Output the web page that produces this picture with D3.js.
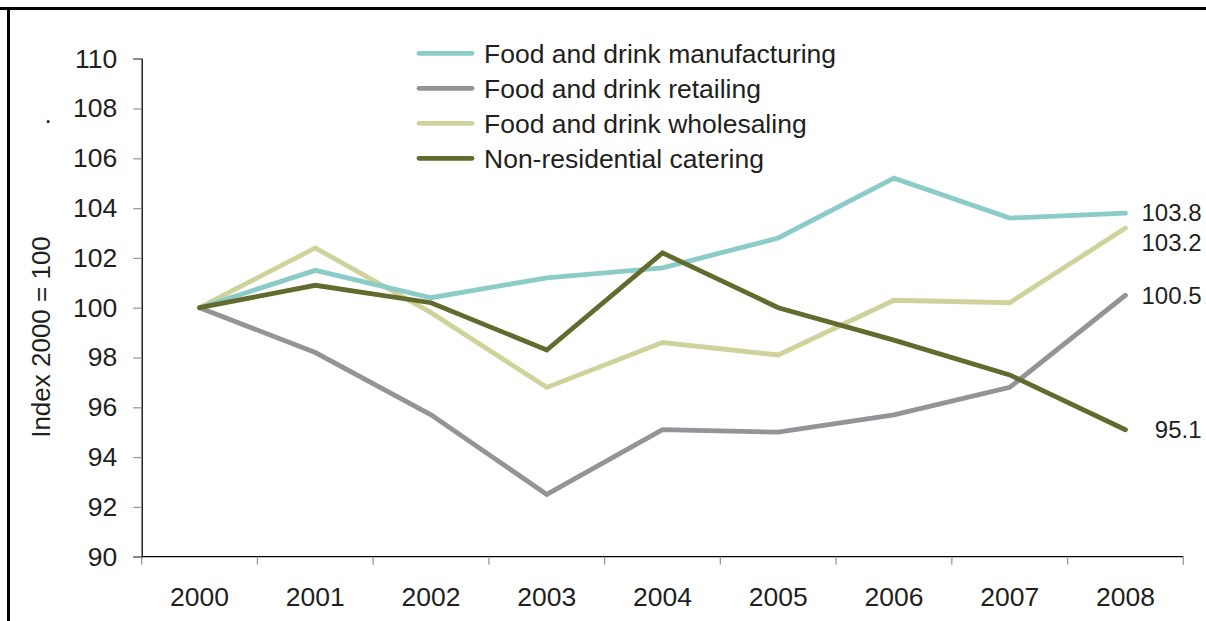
<!DOCTYPE html>
<html>
<head>
<meta charset="utf-8">
<script src="https://cdn.jsdelivr.net/npm/d3@7/dist/d3.min.js"></script>
<style>
  html, body { margin: 0; padding: 0; background: #fff; }
  svg { display: block; font-family: "Liberation Sans", Arial, sans-serif; }
</style>
</head>
<body>
<svg id="chart" width="1206" height="621"></svg>
<script>
// Years on the category axis
const years = ["2000", "2001", "2002", "2003", "2004", "2005", "2006", "2007", "2008"];

// Index values (2000 = 100) for each sector
const manufacturing = [100, 101.5, 100.4, 101.2, 101.6, 102.8, 105.2, 103.6, 103.8];
const retailing     = [100, 98.2, 95.7, 92.5, 95.1, 95.0, 95.7, 96.8, 100.5];
const wholesaling   = [100, 102.4, 99.8, 96.8, 98.6, 98.1, 100.3, 100.2, 103.2];
const catering      = [100, 100.9, 100.2, 98.3, 102.2, 100.0, 98.7, 97.3, 95.1];

// Y-axis tick values
const yTicks = [90, 92, 94, 96, 98, 100, 102, 104, 106, 108, 110];

const seriesNames = [
  "Food and drink manufacturing",
  "Food and drink retailing",
  "Food and drink wholesaling",
  "Non-residential catering"
];
const seriesColors = ["#8bcbc8", "#939398", "#cfd39b", "#626a2e"];

const series = [
  { name: seriesNames[0], values: manufacturing, color: seriesColors[0], labelDy: 0 },
  { name: seriesNames[1], values: retailing,     color: seriesColors[1], labelDy: 0 },
  { name: seriesNames[2], values: wholesaling,   color: seriesColors[2], labelDy: 15 },
  { name: seriesNames[3], values: catering,      color: seriesColors[3], labelDy: 0 }
];
// Drawing order: later series sit on top
const drawOrder = [1, 2, 0, 3];

const svg = d3.select("#chart");
const textColor = "#231f20";

// Frame lines along the top and left edges
svg.append("line").attr("x1", 0).attr("x2", 1206).attr("y1", 8.5).attr("y2", 8.5)
  .attr("stroke", "#000").attr("stroke-width", 3);
svg.append("line").attr("x1", 8.5).attr("x2", 8.5).attr("y1", 7).attr("y2", 621)
  .attr("stroke", "#000").attr("stroke-width", 3);

const plot = { left: 141.7, right: 1183.3, top: 58.7, bottom: 556.7 };

const x = d3.scaleBand().domain(years).range([plot.left, plot.right]).padding(0);
const y = d3.scaleLinear().domain([90, 110]).range([plot.bottom, plot.top]);

// Y axis
const yAxis = svg.append("g").attr("transform", `translate(${plot.left},0)`)
  .call(d3.axisLeft(y).tickValues(yTicks).tickSize(8.5).tickPadding(16).tickFormat(d3.format("d")));
yAxis.select(".domain").attr("stroke", "#000").attr("stroke-width", 1.3);
yAxis.selectAll(".tick line").attr("stroke", "#999").attr("stroke-width", 1.3);
yAxis.selectAll(".tick text").attr("fill", textColor).style("font-size", "26.5px")
  .style("font-family", "'Liberation Sans', Arial, sans-serif");

// X axis with boundary ticks between categories
const xAxis = svg.append("g").attr("transform", `translate(0,${plot.bottom})`)
  .call(d3.axisBottom(x).tickSize(0).tickPadding(0));
xAxis.select(".domain").attr("stroke", "#000").attr("stroke-width", 1.3).attr("d", `M${plot.left},0H${plot.right}`);
xAxis.selectAll(".tick text").attr("fill", textColor).style("font-size", "26.5px")
  .style("font-family", "'Liberation Sans', Arial, sans-serif")
  .attr("dy", null).attr("y", 49);
const bounds = years.map(d => x(d)).concat([x(years[years.length - 1]) + x.bandwidth()]);
xAxis.selectAll(".bound").data(bounds).enter().append("line")
  .attr("class", "bound")
  .attr("x1", d => d).attr("x2", d => d).attr("y1", 0).attr("y2", 8)
  .attr("stroke", "#999").attr("stroke-width", 1.3);

// Y axis title
svg.append("text")
  .attr("transform", "translate(49.5,337) rotate(-90)")
  .attr("text-anchor", "middle")
  .attr("fill", textColor).style("font-size", "26px")
  .text("Index 2000 = 100");
svg.append("text").attr("x", 44.5).attr("y", 123).attr("fill", textColor)
  .style("font-size", "26px").text(".");

// Series lines
const line = d3.line()
  .x((d, i) => x(years[i]) + x.bandwidth() / 2)
  .y(d => y(d));

drawOrder.forEach(k => {
  const s = series[k];
  svg.append("path")
    .datum(s.values)
    .attr("d", line)
    .attr("fill", "none")
    .attr("stroke", s.color)
    .attr("stroke-width", 4.8)
    .attr("stroke-linejoin", "miter")
    .attr("stroke-linecap", "round");
});

// End-of-line value labels
series.forEach(s => {
  const v = s.values[s.values.length - 1];
  svg.append("text")
    .attr("x", 1201.5)
    .attr("y", y(v) + s.labelDy)
    .attr("dy", "0.35em")
    .attr("text-anchor", "end")
    .attr("fill", textColor).style("font-size", "24px")
    .text(d3.format(".1f")(v));
});

// Legend
const legend = svg.append("g");
series.forEach((s, i) => {
  const ly = 53.3 + i * 35;
  legend.append("line")
    .attr("x1", 419).attr("x2", 472).attr("y1", ly).attr("y2", ly)
    .attr("stroke", s.color).attr("stroke-width", 4.8).attr("stroke-linecap", "round");
  legend.append("text")
    .attr("x", 484).attr("y", ly).attr("dy", "0.35em")
    .attr("fill", textColor).style("font-size", "26.5px")
    .text(s.name);
});
</script>
</body>
</html>
